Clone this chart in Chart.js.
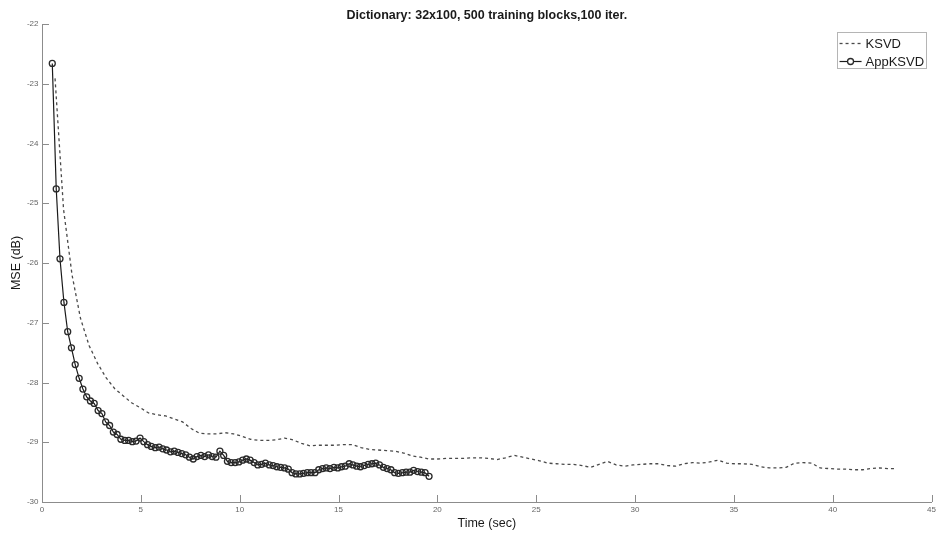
<!DOCTYPE html>
<html>
<head>
<meta charset="utf-8">
<script src="https://cdn.jsdelivr.net/npm/chart.js@4/dist/chart.umd.min.js"></script>
<style>
  html, body { margin: 0; padding: 0; background: #fff; }
  #wrap { width: 939px; height: 533px; }
</style>
</head>
<body>
<div id="wrap"><canvas id="c" width="939" height="533"></canvas></div>
<script>
// Training time (seconds) and reconstruction error (dB) per iteration.
const ksvdTime = [
  0.66, 1.09, 1.52, 1.95, 2.38, 2.81, 3.24, 3.67, 4.10, 4.53,
  4.96, 5.39, 5.82, 6.25, 6.68, 7.11, 7.54, 7.97, 8.40, 8.83,
  9.26, 9.69, 10.12, 10.55, 10.98, 11.41, 11.84, 12.27, 12.70, 13.13,
  13.56, 13.99, 14.42, 14.85, 15.28, 15.71, 16.14, 16.57, 17.00, 17.43,
  17.86, 18.29, 18.72, 19.15, 19.58, 20.01, 20.44, 20.87, 21.30, 21.73,
  22.16, 22.59, 23.02, 23.45, 23.88, 24.31, 24.74, 25.17, 25.60, 26.03,
  26.46, 26.89, 27.32, 27.75, 28.18, 28.61, 29.04, 29.47, 29.90, 30.33,
  30.76, 31.19, 31.62, 32.05, 32.48, 32.91, 33.34, 33.77, 34.20, 34.63,
  35.06, 35.49, 35.92, 36.35, 36.78, 37.21, 37.64, 38.07, 38.50, 38.93,
  39.36, 39.79, 40.22, 40.65, 41.08, 41.51, 41.94, 42.37, 42.80, 43.10
];
const ksvdMse = [
  -22.91, -25.10, -26.20, -26.93, -27.38, -27.68, -27.92, -28.10, -28.22, -28.34,
  -28.42, -28.51, -28.54, -28.56, -28.61, -28.66, -28.77, -28.85, -28.86, -28.86,
  -28.84, -28.86, -28.90, -28.95, -28.97, -28.97, -28.96, -28.93, -28.96, -29.02,
  -29.06, -29.05, -29.05, -29.05, -29.04, -29.04, -29.09, -29.12, -29.13, -29.14,
  -29.15, -29.18, -29.23, -29.25, -29.28, -29.28, -29.27, -29.27, -29.27, -29.26,
  -29.26, -29.27, -29.29, -29.26, -29.22, -29.25, -29.28, -29.31, -29.35, -29.36,
  -29.37, -29.37, -29.39, -29.42, -29.37, -29.32, -29.38, -29.40, -29.38, -29.37,
  -29.36, -29.36, -29.39, -29.40, -29.36, -29.34, -29.35, -29.33, -29.30, -29.35,
  -29.36, -29.36, -29.37, -29.41, -29.43, -29.43, -29.42, -29.35, -29.34, -29.35,
  -29.43, -29.44, -29.45, -29.45, -29.46, -29.46, -29.44, -29.43, -29.44, -29.44
];

const appTime = [
  0.52, 0.72, 0.91, 1.11, 1.30, 1.49, 1.68, 1.88, 2.07, 2.26,
  2.45, 2.64, 2.84, 3.03, 3.22, 3.42, 3.61, 3.80, 3.99, 4.19,
  4.38, 4.57, 4.76, 4.96, 5.15, 5.34, 5.53, 5.73, 5.92, 6.11,
  6.30, 6.50, 6.69, 6.88, 7.07, 7.27, 7.46, 7.65, 7.84, 8.04,
  8.23, 8.42, 8.61, 8.80, 9.00, 9.19, 9.38, 9.57, 9.77, 9.96,
  10.15, 10.34, 10.53, 10.73, 10.92, 11.11, 11.30, 11.50, 11.69, 11.88,
  12.07, 12.27, 12.46, 12.65, 12.84, 13.04, 13.23, 13.42, 13.61, 13.81,
  14.00, 14.19, 14.38, 14.57, 14.77, 14.96, 15.15, 15.34, 15.54, 15.73,
  15.92, 16.11, 16.30, 16.50, 16.69, 16.88, 17.07, 17.27, 17.46, 17.65,
  17.84, 18.03, 18.23, 18.42, 18.61, 18.80, 19.00, 19.19, 19.38, 19.58
];
const appMse = [
  -22.66, -24.76, -25.93, -26.66, -27.15, -27.42, -27.70, -27.93, -28.11, -28.24,
  -28.31, -28.35, -28.47, -28.52, -28.66, -28.72, -28.83, -28.87, -28.95, -28.97,
  -28.97, -28.99, -28.98, -28.93, -28.99, -29.04, -29.07, -29.09, -29.08, -29.11,
  -29.13, -29.16, -29.15, -29.17, -29.19, -29.21, -29.25, -29.28, -29.24, -29.22,
  -29.24, -29.21, -29.24, -29.25, -29.15, -29.22, -29.32, -29.34, -29.34, -29.33,
  -29.30, -29.28, -29.30, -29.34, -29.38, -29.37, -29.35, -29.38, -29.39, -29.41,
  -29.42, -29.43, -29.45, -29.51, -29.53, -29.53, -29.52, -29.51, -29.51, -29.51,
  -29.46, -29.44, -29.43, -29.44, -29.42, -29.43, -29.41, -29.40, -29.36, -29.38,
  -29.40, -29.41, -29.39, -29.37, -29.36, -29.35, -29.38, -29.42, -29.44, -29.46,
  -29.51, -29.52, -29.51, -29.50, -29.50, -29.47, -29.49, -29.50, -29.51, -29.57
];

const seriesNames = ['KSVD', 'AppKSVD'];
const titleText = 'Dictionary: 32x100, 500 training blocks,100 iter.';
const xTitle = 'Time (sec)';
const yTitle = 'MSE (dB)';

const FONT = '"Liberation Sans", Arial, Helvetica, sans-serif';
const AXIS_COLOR = '#8c8c8c';

function pairs(xs, ys) { return xs.map((x, i) => ({ x: x, y: ys[i] })); }

// Tick marks drawn inside the plot area, on the x and y axes.
const inwardTicks = {
  id: 'inwardTicks',
  afterDatasetsDraw(chart) {
    const ctx = chart.ctx;
    const area = chart.chartArea;
    const len = 7;
    ctx.save();
    ctx.strokeStyle = AXIS_COLOR;
    ctx.lineWidth = 1;
    const xs = chart.scales.x;
    xs.ticks.forEach((t, i) => {
      const px = Math.round(xs.getPixelForTick(i)) + 0.5;
      ctx.beginPath();
      ctx.moveTo(px, area.bottom);
      ctx.lineTo(px, area.bottom - len);
      ctx.stroke();
    });
    const ys = chart.scales.y;
    ys.ticks.forEach((t, i) => {
      const py = Math.round(ys.getPixelForTick(i)) + 0.5;
      ctx.beginPath();
      ctx.moveTo(area.left, py);
      ctx.lineTo(area.left + len, py);
      ctx.stroke();
    });
    ctx.restore();
  }
};

// Boxed legend in the upper right corner of the plot.
const boxLegend = {
  id: 'boxLegend',
  afterDraw(chart) {
    const ctx = chart.ctx;
    const area = chart.chartArea;
    const w = 89, h = 36;
    const x0 = area.right - 6 - w;
    const y0 = area.top + 8;
    ctx.save();
    ctx.fillStyle = '#fff';
    ctx.fillRect(x0, y0, w, h);
    ctx.strokeStyle = '#b5b5b5';
    ctx.lineWidth = 1;
    ctx.strokeRect(Math.round(x0) + 0.5, Math.round(y0) + 0.5, w, h);

    const rows = [y0 + 11.5, y0 + 29.5];
    chart.data.datasets.forEach((ds, i) => {
      const y = rows[i];
      ctx.strokeStyle = ds.borderColor;
      ctx.lineWidth = ds.borderWidth;
      ctx.setLineDash(ds.borderDash || []);
      ctx.beginPath();
      ctx.moveTo(x0 + 3, y);
      ctx.lineTo(x0 + 25, y);
      ctx.stroke();
      ctx.setLineDash([]);
      if (ds.pointRadius > 0) {
        ctx.strokeStyle = ds.pointBorderColor;
        ctx.lineWidth = ds.pointBorderWidth;
        ctx.fillStyle = '#fff';
        ctx.beginPath();
        ctx.arc(x0 + 14, y, ds.pointRadius, 0, Math.PI * 2);
        ctx.fill();
        ctx.stroke();
      }
      ctx.fillStyle = '#1a1a1a';
      ctx.font = '13px ' + FONT;
      ctx.textBaseline = 'middle';
      ctx.textAlign = 'left';
      ctx.fillText(ds.label, x0 + 29, y + 0.5);
    });
    ctx.restore();
  }
};

new Chart(document.getElementById('c'), {
  type: 'line',
  data: {
    datasets: [
      {
        label: seriesNames[0],
        data: pairs(ksvdTime, ksvdMse),
        borderColor: '#4a4a4a',
        borderWidth: 1.3,
        borderDash: [3, 3],
        pointRadius: 0,
        fill: false,
        tension: 0
      },
      {
        label: seriesNames[1],
        data: pairs(appTime, appMse),
        borderColor: '#1a1a1a',
        borderWidth: 1.2,
        pointRadius: 3,
        pointBorderWidth: 1.3,
        pointBorderColor: '#2a2a2a',
        pointBackgroundColor: 'rgba(255,255,255,0)',
        pointStyle: 'circle',
        fill: false,
        tension: 0
      }
    ]
  },
  plugins: [inwardTicks, boxLegend],
  options: {
    responsive: false,
    animation: false,
    events: [],
    layout: { padding: { left: 0, right: 6, top: 0, bottom: 0 } },
    plugins: {
      legend: { display: false },
      tooltip: { enabled: false },
      title: {
        display: true,
        text: titleText,
        fullSize: false,
        color: '#1a1a1a',
        font: { family: FONT, size: 12.5, weight: 'bold', lineHeight: 1.2 },
        padding: { top: 8, bottom: 1 }
      }
    },
    scales: {
      x: {
        type: 'linear',
        min: 0,
        max: 45,
        afterFit(s) { s.height = 31; },
        ticks: {
          stepSize: 5,
          color: '#666',
          padding: 3,
          maxRotation: 0,
          font: { family: FONT, size: 8 }
        },
        grid: { drawOnChartArea: false, drawTicks: false, color: AXIS_COLOR },
        border: { display: true, color: AXIS_COLOR, width: 1 },
        title: {
          display: true,
          text: xTitle,
          color: '#1a1a1a',
          font: { family: FONT, size: 12.5, lineHeight: 1.2 },
          padding: { top: 0, bottom: 1.5 }
        }
      },
      y: {
        type: 'linear',
        min: -30,
        max: -22,
        afterFit(s) { s.width = 42; },
        ticks: {
          stepSize: 1,
          color: '#666',
          padding: 3.5,
          font: { family: FONT, size: 8 }
        },
        grid: { drawOnChartArea: false, drawTicks: false, color: AXIS_COLOR },
        border: { display: true, color: AXIS_COLOR, width: 1 },
        title: {
          display: true,
          text: yTitle,
          color: '#1a1a1a',
          font: { family: FONT, size: 12.5, lineHeight: 1.2 },
          padding: { top: 9.5, bottom: 0 }
        }
      }
    }
  }
});
</script>
</body>
</html>
